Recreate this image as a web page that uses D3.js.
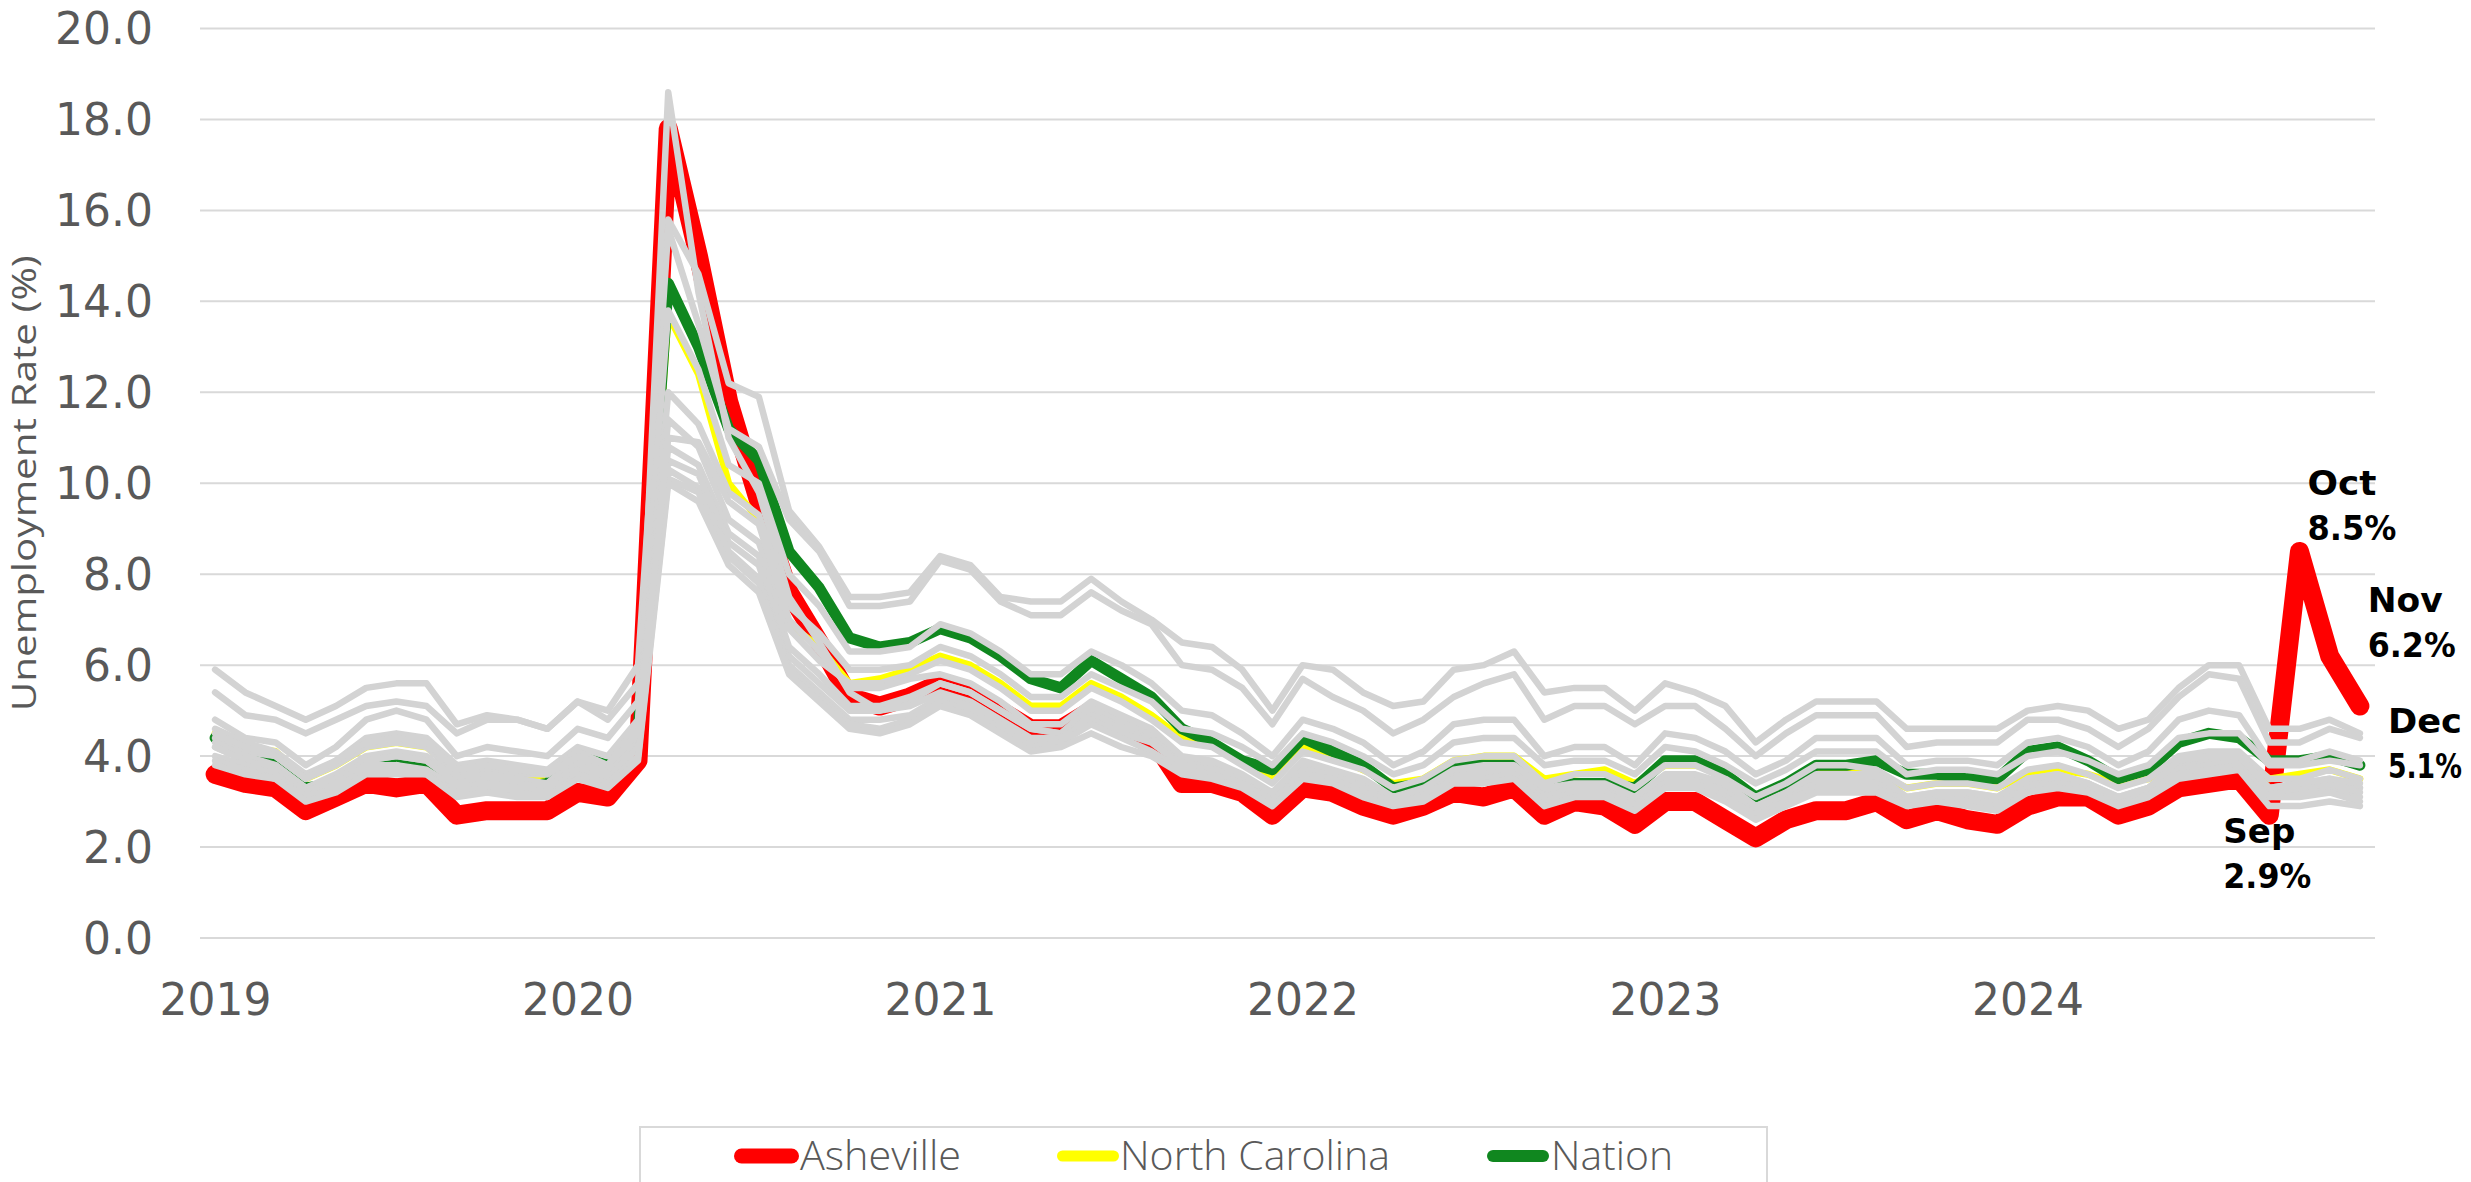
<!DOCTYPE html>
<html>
<head>
<meta charset="utf-8">
<script src="https://cdn.jsdelivr.net/npm/d3@7"></script>
<style>
  body { margin: 0; background: #fff; }
  svg { display: block; }
</style>
</head>
<body>
<script>
var outerWidth = 2471;
var outerHeight = 1182;

// ---- data ----
var years = ['2019', '2020', '2021', '2022', '2023', '2024'];
var monthNames = ['Jan', 'Feb', 'Mar', 'Apr', 'May', 'Jun', 'Jul', 'Aug', 'Sep', 'Oct', 'Nov', 'Dec'];
var yTicks = [0, 2, 4, 6, 8, 10, 12, 14, 16, 18, 20];

var asheville = [
  3.6, 3.4, 3.3, 2.8, 3.1, 3.4, 3.3, 3.4, 2.7, 2.8, 2.8, 2.8,
  3.2, 3.1, 3.9, 17.8, 15.0, 11.8, 9.6, 7.6, 6.5, 5.3, 5.1, 5.3,
  5.6, 5.4, 5.0, 4.6, 4.6, 5.0, 4.6, 4.4, 3.4, 3.4, 3.2, 2.7,
  3.3, 3.2, 2.9, 2.7, 2.9, 3.2, 3.1, 3.3, 2.7, 3.0, 2.9, 2.5,
  3.0, 3.0, 2.6, 2.2, 2.6, 2.8, 2.8, 3.0, 2.6, 2.8, 2.6, 2.5,
  2.9, 3.1, 3.1, 2.7, 2.9, 3.3, 3.4, 3.5, 2.7, 8.5, 6.2, 5.1
];
var northCarolina = [
  4.5, 4.2, 4.1, 3.5, 3.8, 4.2, 4.3, 4.2, 3.7, 3.7, 3.6, 3.5,
  3.9, 3.7, 4.4, 13.7, 12.4, 10.0, 9.2, 6.9, 6.4, 5.6, 5.7, 5.9,
  6.2, 6.0, 5.6, 5.1, 5.1, 5.6, 5.3, 4.9, 4.4, 4.3, 3.9, 3.5,
  4.2, 4.0, 3.7, 3.4, 3.5, 3.9, 4.0, 4.0, 3.5, 3.6, 3.7, 3.4,
  3.8, 3.8, 3.6, 3.1, 3.4, 3.7, 3.7, 3.6, 3.3, 3.4, 3.4, 3.3,
  3.6, 3.7, 3.6, 3.4, 3.5, 3.9, 4.0, 4.0, 3.5, 3.6, 3.7, 3.5
];
var nation = [
  4.4, 4.1, 3.9, 3.3, 3.4, 3.8, 4.0, 3.8, 3.3, 3.3, 3.3, 3.4,
  4.0, 3.8, 4.5, 14.4, 13.0, 11.2, 10.5, 8.5, 7.7, 6.6, 6.4, 6.5,
  6.8, 6.6, 6.2, 5.7, 5.5, 6.1, 5.7, 5.3, 4.6, 4.3, 3.9, 3.7,
  4.4, 4.1, 3.8, 3.3, 3.4, 3.8, 3.8, 3.8, 3.3, 3.4, 3.4, 3.3,
  3.9, 3.9, 3.6, 3.1, 3.4, 3.8, 3.8, 3.9, 3.6, 3.6, 3.5, 3.5,
  4.1, 4.2, 3.9, 3.5, 3.7, 4.3, 4.5, 4.4, 3.9, 3.9, 4.0, 3.8
];

// other metro areas, drawn in gray
var metroA = [
  5.9, 5.4, 5.1, 4.8, 5.1, 5.5, 5.6, 5.6, 4.7, 4.9, 4.8, 4.6,
  5.2, 5.0, 6.0, 15.8, 14.6, 12.2, 11.9, 9.4, 8.6, 7.5, 7.5, 7.6,
  8.4, 8.2, 7.5, 7.4, 7.4, 7.9, 7.4, 7.0, 6.5, 6.4, 5.9, 5.0,
  6.0, 5.9, 5.4, 5.1, 5.2, 5.9, 6.0, 6.3, 5.4, 5.5, 5.5, 5.0,
  5.6, 5.4, 5.1, 4.3, 4.8, 5.2, 5.2, 5.2, 4.6, 4.6, 4.6, 4.6,
  5.0, 5.1, 5.0, 4.6, 4.8, 5.5, 6.0, 6.0, 4.6, 4.6, 4.8, 4.5
];
var metroB = [
  5.4, 4.9, 4.8, 4.5, 4.8, 5.1, 5.2, 5.1, 4.5, 4.8, 4.8, 4.6,
  5.2, 4.8, 5.6, 15.6, 13.5, 11.2, 10.8, 9.2, 8.5, 7.3, 7.3, 7.4,
  8.3, 8.1, 7.4, 7.1, 7.1, 7.6, 7.2, 6.9, 6.0, 5.9, 5.5, 4.7,
  5.7, 5.3, 5.0, 4.5, 4.8, 5.3, 5.6, 5.8, 4.8, 5.1, 5.1, 4.7,
  5.1, 5.1, 4.6, 4.0, 4.5, 4.9, 4.9, 4.9, 4.2, 4.3, 4.3, 4.3,
  4.8, 4.8, 4.6, 4.2, 4.6, 5.3, 5.8, 5.7, 4.3, 4.3, 4.6, 4.4
];
var metroC = [
  4.2, 3.9, 3.8, 3.3, 3.5, 3.9, 4.0, 3.9, 3.4, 3.5, 3.4, 3.4,
  4.0, 3.7, 4.6, 18.6, 14.2, 11.0, 9.8, 7.5, 6.5, 5.4, 5.0, 5.2,
  5.6, 5.4, 5.0, 4.6, 4.5, 5.0, 4.7, 4.4, 3.9, 3.8, 3.4, 3.1,
  3.8, 3.6, 3.4, 3.0, 3.2, 3.6, 3.7, 3.7, 3.2, 3.3, 3.3, 3.1,
  3.5, 3.5, 3.3, 2.9, 3.1, 3.5, 3.5, 3.5, 3.1, 3.2, 3.2, 3.1,
  3.5, 3.6, 3.4, 3.0, 3.3, 3.8, 3.9, 3.9, 3.3, 3.4, 3.5, 3.3
];
var metroD = [
  4.8, 4.4, 4.3, 3.8, 4.2, 4.8, 5.0, 4.8, 4.0, 4.2, 4.1, 4.0,
  4.6, 4.4, 5.2, 13.8, 12.5, 10.4, 10.0, 8.0, 7.3, 6.3, 6.3, 6.4,
  6.9, 6.7, 6.3, 5.8, 5.8, 6.3, 6.0, 5.6, 5.0, 4.9, 4.5, 4.0,
  4.8, 4.6, 4.3, 3.8, 4.1, 4.7, 4.8, 4.8, 4.0, 4.2, 4.2, 3.8,
  4.5, 4.4, 4.1, 3.6, 3.9, 4.4, 4.4, 4.4, 3.8, 3.9, 3.9, 3.8,
  4.3, 4.4, 4.2, 3.8, 4.1, 4.8, 5.0, 4.9, 3.9, 3.9, 4.1, 3.9
];
var metroE = [
  4.6, 4.3, 4.1, 3.6, 3.9, 4.4, 4.5, 4.4, 3.8, 3.9, 3.8, 3.7,
  4.2, 4.0, 4.8, 12.0, 11.3, 9.8, 9.3, 7.3, 6.7, 5.9, 5.9, 6.0,
  6.4, 6.2, 5.8, 5.3, 5.3, 5.8, 5.5, 5.2, 4.6, 4.5, 4.2, 3.8,
  4.5, 4.3, 4.0, 3.6, 3.8, 4.3, 4.4, 4.4, 3.8, 3.9, 3.9, 3.6,
  4.2, 4.1, 3.8, 3.4, 3.7, 4.1, 4.1, 4.1, 3.6, 3.7, 3.7, 3.6,
  4.0, 4.1, 3.9, 3.6, 3.8, 4.4, 4.5, 4.5, 3.8, 3.8, 3.9, 3.8
];
var metroF = [
  4.4, 4.1, 4.0, 3.5, 3.8, 4.2, 4.3, 4.2, 3.6, 3.7, 3.6, 3.6,
  4.1, 3.8, 4.7, 11.4, 10.8, 9.2, 8.7, 6.8, 6.1, 5.6, 5.6, 5.8,
  6.1, 5.9, 5.5, 5.0, 5.0, 5.5, 5.2, 4.8, 4.3, 4.2, 3.8, 3.4,
  4.1, 3.9, 3.7, 3.3, 3.5, 3.9, 4.0, 4.0, 3.4, 3.6, 3.6, 3.3,
  3.8, 3.8, 3.5, 3.1, 3.4, 3.8, 3.8, 3.7, 3.3, 3.4, 3.4, 3.3,
  3.7, 3.8, 3.6, 3.3, 3.5, 4.0, 4.1, 4.1, 3.5, 3.5, 3.7, 3.5
];
var metroG = [
  4.3, 4.0, 3.8, 3.3, 3.6, 4.0, 4.1, 4.0, 3.5, 3.6, 3.5, 3.4,
  3.9, 3.7, 4.4, 10.8, 10.4, 8.9, 8.4, 6.4, 5.8, 5.1, 5.1, 5.3,
  5.6, 5.4, 5.0, 4.6, 4.5, 5.1, 4.8, 4.5, 3.9, 3.8, 3.5, 3.1,
  3.8, 3.6, 3.4, 3.0, 3.2, 3.6, 3.7, 3.7, 3.1, 3.3, 3.3, 3.0,
  3.5, 3.5, 3.2, 2.8, 3.1, 3.5, 3.5, 3.4, 3.0, 3.1, 3.1, 3.0,
  3.4, 3.5, 3.3, 3.0, 3.2, 3.7, 3.8, 3.8, 3.2, 3.3, 3.4, 3.3
];
var metroH = [
  4.2, 3.9, 3.7, 3.2, 3.5, 3.9, 4.0, 3.9, 3.4, 3.5, 3.4, 3.3,
  3.8, 3.6, 4.3, 10.5, 10.2, 8.7, 8.2, 6.2, 5.6, 5.0, 5.0, 5.1,
  5.4, 5.2, 4.8, 4.4, 4.4, 4.9, 4.6, 4.3, 3.8, 3.7, 3.4, 3.0,
  3.7, 3.6, 3.3, 3.1, 3.2, 3.6, 3.6, 3.7, 3.1, 3.3, 3.3, 3.0,
  3.4, 3.4, 3.2, 2.8, 3.1, 3.4, 3.4, 3.4, 3.0, 3.1, 3.1, 3.0,
  3.3, 3.4, 3.3, 3.0, 3.2, 3.6, 3.7, 3.8, 3.1, 3.2, 3.3, 3.1
];
var metroI = [
  4.0, 3.8, 3.6, 3.1, 3.4, 3.8, 3.8, 3.7, 3.3, 3.4, 3.3, 3.2,
  3.7, 3.5, 4.2, 10.3, 9.9, 8.5, 7.9, 6.0, 5.4, 4.8, 4.8, 4.9,
  5.3, 5.1, 4.7, 4.3, 4.4, 4.8, 4.5, 4.3, 3.8, 3.7, 3.5, 3.1,
  3.7, 3.6, 3.3, 3.1, 3.2, 3.6, 3.6, 3.7, 3.1, 3.3, 3.3, 3.0,
  3.5, 3.5, 3.2, 2.8, 3.1, 3.4, 3.4, 3.4, 3.0, 3.1, 3.1, 3.0,
  3.4, 3.5, 3.4, 3.1, 3.3, 3.7, 3.8, 3.9, 3.2, 3.3, 3.4, 3.2
];
var metroJ = [
  3.9, 3.7, 3.5, 3.1, 3.3, 3.7, 3.7, 3.6, 3.2, 3.3, 3.2, 3.1,
  3.6, 3.4, 4.0, 10.1, 9.8, 8.4, 7.8, 5.9, 5.3, 4.7, 4.6, 4.8,
  5.2, 5.0, 4.6, 4.2, 4.3, 4.7, 4.4, 4.1, 3.7, 3.6, 3.4, 3.0,
  3.6, 3.5, 3.2, 3.0, 3.1, 3.5, 3.5, 3.6, 3.0, 3.2, 3.2, 2.9,
  3.4, 3.4, 3.1, 2.7, 3.0, 3.3, 3.3, 3.3, 3.0, 3.1, 3.0, 2.9,
  3.3, 3.4, 3.3, 3.0, 3.2, 3.6, 3.7, 3.8, 3.1, 3.1, 3.2, 3.0
];
var metroK = [
  3.8, 3.6, 3.5, 3.0, 3.2, 3.6, 3.6, 3.6, 3.1, 3.2, 3.1, 3.1,
  3.5, 3.3, 3.9, 10.0, 9.6, 8.2, 7.6, 5.8, 5.2, 4.6, 4.5, 4.7,
  5.1, 4.9, 4.5, 4.1, 4.2, 4.5, 4.2, 4.0, 3.6, 3.5, 3.3, 2.9,
  3.5, 3.4, 3.1, 2.9, 3.0, 3.4, 3.4, 3.5, 2.9, 3.1, 3.1, 2.8,
  3.3, 3.3, 3.0, 2.6, 2.9, 3.2, 3.2, 3.2, 2.9, 3.0, 2.9, 2.8,
  3.2, 3.3, 3.2, 2.9, 3.1, 3.5, 3.6, 3.7, 2.9, 2.9, 3.0, 2.9
];
var metroL = [
  4.5, 4.2, 4.0, 3.5, 3.9, 4.3, 4.4, 4.3, 3.7, 3.8, 3.7, 3.6,
  4.0, 3.8, 4.5, 11.0, 10.9, 9.6, 9.1, 7.0, 6.3, 5.5, 5.5, 5.7,
  5.8, 5.6, 5.2, 4.7, 4.7, 5.2, 4.9, 4.6, 4.0, 3.9, 3.6, 3.2,
  3.9, 3.7, 3.5, 3.1, 3.3, 3.7, 3.8, 3.8, 3.3, 3.4, 3.4, 3.1,
  3.6, 3.6, 3.4, 2.9, 3.2, 3.6, 3.6, 3.6, 3.1, 3.2, 3.2, 3.1,
  3.5, 3.6, 3.4, 3.1, 3.3, 3.9, 4.0, 4.0, 3.3, 3.4, 3.5, 3.4
];

var legendNames = ['Asheville', 'North Carolina', 'Nation'];
var calloutMonths = ['Sep', 'Oct', 'Nov', 'Dec'];
var calloutLabels = ['2.9%', '8.5%', '6.2%', '5.1%'];

// ---- build ----
var categories = [];
years.forEach(function(yr){
  monthNames.forEach(function(m){ categories.push(m + ' ' + yr); });
});
var grayLines = [metroA, metroB, metroC, metroD, metroE, metroF,
                 metroG, metroH, metroI, metroJ, metroK, metroL];

var plotLeft = 200, plotRight = 2375, plotTop = 28.5, plotBottom = 938;
var numFont = '"DejaVu Sans", sans-serif';
var textFont = '"Open Sans", "DejaVu Sans", sans-serif';
var axisGray = '#595959';

var svg = d3.select('body').append('svg')
  .attr('width', outerWidth)
  .attr('height', outerHeight);

var x = d3.scalePoint()
  .domain(categories)
  .range([plotLeft, plotRight])
  .padding(0.5);

var y = d3.scaleLinear()
  .domain([0, 20])
  .range([plotBottom, plotTop]);

// gridlines
svg.append('g')
  .selectAll('line')
  .data(yTicks)
  .enter()
  .append('line')
  .attr('x1', plotLeft)
  .attr('x2', plotRight)
  .attr('y1', function(d){ return y(d); })
  .attr('y2', function(d){ return y(d); })
  .attr('stroke', '#d9d9d9')
  .attr('stroke-width', 2);

// y axis labels
var yAxis = svg.append('g')
  .attr('transform', 'translate(' + plotLeft + ',0)')
  .call(d3.axisLeft(y).tickValues(yTicks).tickSize(0).tickPadding(47).tickFormat(d3.format('.1f')));
yAxis.select('.domain').remove();
yAxis.selectAll('text')
  .attr('dy', '0.35em')
  .style('font-family', numFont)
  .style('font-size', '44px')
  .style('fill', axisGray);

// x axis labels (January of each year)
var xAxis = svg.append('g')
  .attr('transform', 'translate(0,' + plotBottom + ')')
  .call(d3.axisBottom(x)
    .tickValues(years.map(function(yr){ return 'Jan ' + yr; }))
    .tickSize(0)
    .tickPadding(46)
    .tickFormat(function(d){ return d.split(' ')[1]; }));
xAxis.select('.domain').remove();
xAxis.selectAll('text')
  .style('font-family', numFont)
  .style('font-size', '44px')
  .style('fill', axisGray);

// y title
svg.append('text')
  .attr('transform', 'translate(36,' + ((plotTop + plotBottom) / 2) + ') rotate(-90)')
  .attr('text-anchor', 'middle')
  .attr('textLength', 456)
  .attr('lengthAdjust', 'spacingAndGlyphs')
  .style('font-family', textFont)
  .style('font-size', '33px')
  .style('fill', axisGray)
  .text('Unemployment Rate (%)');

var line = d3.line()
  .x(function(d, i){ return x(categories[i]); })
  .y(function(d){ return y(d); });

function drawSeries(values, color, width){
  svg.append('path')
    .datum(values)
    .attr('d', line)
    .attr('fill', 'none')
    .attr('stroke', color)
    .attr('stroke-width', width)
    .attr('stroke-linejoin', 'round')
    .attr('stroke-linecap', 'round');
}

drawSeries(asheville, '#ff0000', 19);
drawSeries(northCarolina, '#ffff00', 7);
drawSeries(nation, '#10871f', 11);
grayLines.forEach(function(s){ drawSeries(s, '#d3d3d3', 6.5); });

// callouts for Asheville, late 2024 (squeezed horizontally to the target width)
var calloutStyle = {
  'Sep': {dx: -46, dy: 28, w1: 72, w2: 88},
  'Oct': {dx: 8, dy: -56, w1: 69, w2: 89},
  'Nov': {dx: 38, dy: -44, w1: 75, w2: 88},
  'Dec': {dx: 28, dy: 27, w1: 74, w2: 74}
};
calloutMonths.forEach(function(m, k){
  var cat = m + ' 2024';
  var idx = categories.indexOf(cat);
  var st = calloutStyle[m];
  var lx = x(cat) + st.dx;
  var ly = y(asheville[idx]) + st.dy;
  [[m, 0, st.w1], [calloutLabels[k], 45, st.w2]].forEach(function(row){
    var t = svg.append('text')
      .attr('x', 0)
      .attr('y', 0)
      .style('font-family', numFont)
      .style('font-weight', 'bold')
      .style('font-size', '34px')
      .style('fill', '#000')
      .text(row[0]);
    var natural = t.node().getComputedTextLength();
    var sx = natural > 0 ? row[2] / natural : 1;
    t.attr('transform', 'translate(' + lx + ',' + (ly + row[1]) + ') scale(' + sx + ',1)');
  });
});

// legend
svg.append('rect')
  .attr('x', 640)
  .attr('y', 1127)
  .attr('width', 1127)
  .attr('height', 90)
  .attr('fill', '#fff')
  .attr('stroke', '#d9d9d9')
  .attr('stroke-width', 2);

var legendStyle = [
  {color: '#ff0000', width: 15, x1: 741.5, x2: 791.5, tx: 800, len: 161},
  {color: '#ffff00', width: 11, x1: 1062.5, x2: 1113.5, tx: 1120, len: 270},
  {color: '#10871f', width: 12, x1: 1493, x2: 1543, tx: 1551, len: 122}
];
var legendItem = svg.append('g')
  .selectAll('g')
  .data(legendNames)
  .enter()
  .append('g');
legendItem.append('line')
  .attr('x1', function(d, i){ return legendStyle[i].x1; })
  .attr('x2', function(d, i){ return legendStyle[i].x2; })
  .attr('y1', 1156)
  .attr('y2', 1156)
  .attr('stroke', function(d, i){ return legendStyle[i].color; })
  .attr('stroke-width', function(d, i){ return legendStyle[i].width; })
  .attr('stroke-linecap', 'round');
legendItem.append('text')
  .attr('x', function(d, i){ return legendStyle[i].tx; })
  .attr('y', 1170)
  .attr('textLength', function(d, i){ return legendStyle[i].len; })
  .attr('lengthAdjust', 'spacingAndGlyphs')
  .style('font-family', textFont)
  .style('font-weight', 300)
  .style('font-size', '40px')
  .style('fill', axisGray)
  .text(function(d){ return d; });
</script>
</body>
</html>
